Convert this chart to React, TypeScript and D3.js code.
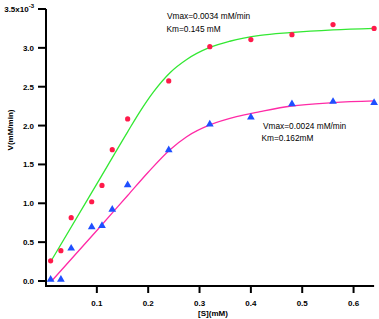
import React from "react";
import * as d3 from "d3";

const W = 379;
const H = 319;

// substrate concentration (mM)
const sValues = [0.01, 0.03, 0.05, 0.09, 0.11, 0.13, 0.16, 0.24, 0.32, 0.40, 0.48, 0.56, 0.64];
// series 1 (red circles), units of 1e-3 mM/min
const redV = [0.26, 0.39, 0.815, 1.02, 1.23, 1.69, 2.085, 2.574, 3.015, 3.106, 3.17, 3.30, 3.25];
// series 2 (blue triangles)
const blueV = [0.02, 0.02, 0.42, 0.695, 0.71, 0.92, 1.235, 1.686, 2.017, 2.107, 2.278, 2.308, 2.295];

// fitted curves
const greenFitX = [0.012, 0.1, 0.16, 0.184, 0.21, 0.2425, 0.275, 0.32, 0.359, 0.418, 0.476, 0.56, 0.641];
const greenFitY = [0.27, 1.25, 1.92, 2.18, 2.43, 2.68, 2.85, 3.005, 3.085, 3.16, 3.196, 3.232, 3.252];
const pinkFitX = [0.012, 0.1, 0.16, 0.2, 0.2425, 0.275, 0.32, 0.372, 0.418, 0.479, 0.56, 0.641];
const pinkFitY = [0.0, 0.65, 1.1, 1.4, 1.69, 1.857, 2.008, 2.115, 2.179, 2.252, 2.295, 2.317];

const xTicks = [0.1, 0.2, 0.3, 0.4, 0.5, 0.6];
const yTicks = [0, 0.5, 1.0, 1.5, 2.0, 2.5, 3.0];

const FONT = "'Liberation Sans', Arial, sans-serif";

export default function App() {
  const x = d3.scaleLinear().domain([0, 0.64]).range([45.5, 374.1]);
  const y = d3.scaleLinear().domain([0, 3.5]).range([281, 9]);

  const line = d3
    .line<[number, number]>()
    .x((d) => x(d[0]))
    .y((d) => y(d[1]))
    .curve(d3.curveMonotoneX);

  const greenPts: [number, number][] = greenFitX.map((v, i) => [v, greenFitY[i]]);
  const pinkPts: [number, number][] = pinkFitX.map((v, i) => [v, pinkFitY[i]]);

  const axisY = 286;
  const axisX = 46;
  const tri = d3.symbol().type(d3.symbolTriangle).size(26)();

  return (
    <svg
      width={W}
      height={H}
      style={{ position: "absolute", left: 0, top: 0, background: "#fff" }}
      fontFamily={FONT}
    >
      {/* axes */}
      <line x1={axisX} x2={axisX} y1={y(3.5)} y2={axisY + 1} stroke="#000" strokeWidth={2} />
      <line x1={axisX - 1} x2={x(0.64)} y1={axisY} y2={axisY} stroke="#000" strokeWidth={2} />

      {yTicks.map((t) => (
        <g key={"y" + t}>
          <line x1={axisX - 8} x2={axisX} y1={y(t)} y2={y(t)} stroke="#000" strokeWidth={2} />
          <text x={34} y={y(t) + 3} textAnchor="end" fontSize={8} fontWeight="bold">
            {t.toFixed(1)}
          </text>
        </g>
      ))}
      <line x1={axisX - 8} x2={axisX} y1={y(3.5)} y2={y(3.5)} stroke="#000" strokeWidth={2} />
      <text x={34} y={y(3.5) + 3} textAnchor="end" fontSize={8} fontWeight="bold">
        3.5x10
        <tspan dy={-4} fontSize={6}>-3</tspan>
      </text>

      {xTicks.map((t) => (
        <g key={"x" + t}>
          <line x1={x(t)} x2={x(t)} y1={axisY} y2={axisY + 7} stroke="#000" strokeWidth={2} />
          <text x={x(t)} y={306} textAnchor="middle" fontSize={8} fontWeight="bold">
            {t.toFixed(1)}
          </text>
        </g>
      ))}

      <text x={213} y={316} textAnchor="middle" fontSize={8} fontWeight="bold">
        [S](mM)
      </text>
      <text
        transform="translate(13,130) rotate(-90)"
        textAnchor="middle"
        fontSize={8}
        fontWeight="bold"
      >
        V(mM/min)
      </text>

      {/* fit curves */}
      <path d={line(greenPts) || ""} fill="none" stroke="#33e833" strokeWidth={1.3} />
      <path d={line(pinkPts) || ""} fill="none" stroke="#ff2aa6" strokeWidth={1.3} />

      {/* data points */}
      {sValues.map((s, i) => (
        <circle key={"r" + i} cx={x(s)} cy={y(redV[i])} r={2.6} fill="#ff1a4a" />
      ))}
      {sValues.map((s, i) => (
        <path
          key={"b" + i}
          d={tri || ""}
          transform={`translate(${x(s)},${y(blueV[i])})`}
          fill="#1f4fff"
        />
      ))}

      {/* annotations */}
      <text x={167} y={19} fontSize={8.3}>Vmax=0.0034 mM/min</text>
      <text x={166.5} y={32} fontSize={8.3}>Km=0.145 mM</text>
      <text x={263} y={128.5} fontSize={8.3}>Vmax=0.0024 mM/min</text>
      <text x={261.5} y={141} fontSize={8.3}>Km=0.162mM</text>
    </svg>
  );
}
